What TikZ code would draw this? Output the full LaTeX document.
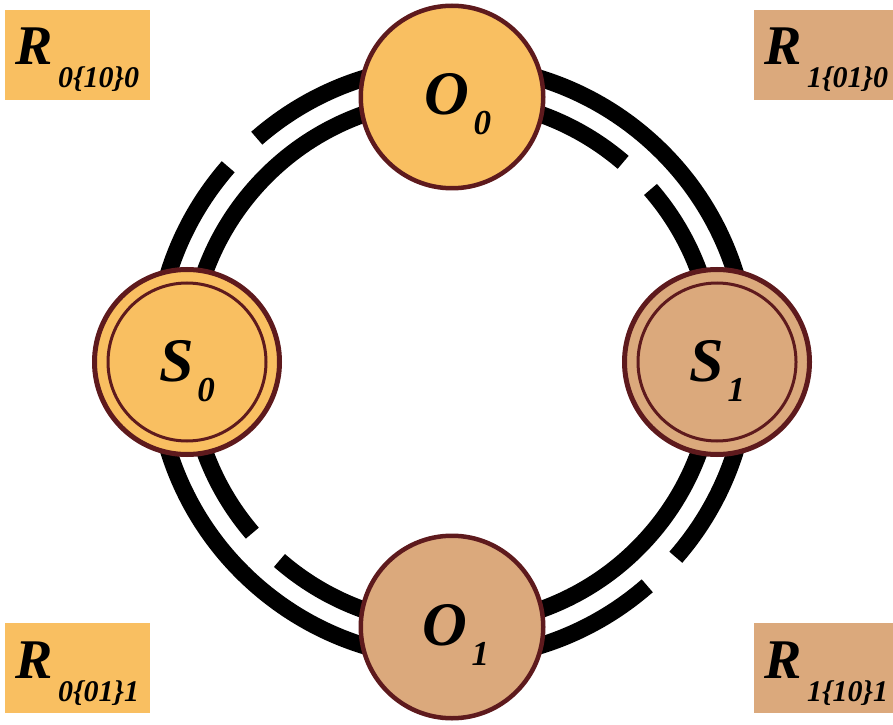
\documentclass[tikz,border=0pt]{standalone}
\usepackage{fontspec}
\setmainfont{Liberation Serif}
\definecolor{orng}{HTML}{F9BF61}
\definecolor{tanc}{HTML}{DBA97C}
\definecolor{bordc}{HTML}{5E1A1D}
\newcommand{\nlab}[2]{{\fontsize{62pt}{62pt}\selectfont #1}\kern4pt\raisebox{-20pt}{\fontsize{35pt}{35pt}\selectfont #2}}
\newcommand{\rlab}[1]{{\fontsize{56pt}{56pt}\selectfont R}\kern5pt\raisebox{-23pt}{\fontsize{30pt}{30pt}\selectfont #1}}
\tikzset{
  ring/.style={line width=17pt, black},
  onode/.style={circle, draw=bordc, line width=4.5pt, minimum size=182.5pt, inner sep=0pt,
    text height=50pt, text depth=14pt, font=\bfseries\itshape},
  snode/.style={circle, draw=bordc, line width=5pt, minimum size=185pt, inner sep=0pt,
    text height=50pt, text depth=12pt, font=\bfseries\itshape},
  innerring/.style={draw=bordc, line width=3pt},
  rbox/.style={rectangle, minimum width=145pt, minimum height=90pt, inner sep=0pt,
    text height=50pt, text depth=30pt, font=\bfseries\itshape},
}
\begin{document}
\begin{tikzpicture}[x=1pt,y=1pt]
\useasboundingbox (0,0) rectangle (893,724);
\coordinate (c) at (452,362);
% rings
\draw[ring] ([shift={(138.9:297)}]c) arc[start angle=138.9, end angle=311.1, radius=297];
\draw[ring] ([shift={(-41.1:297)}]c) arc[start angle=-41.1, end angle=131.1, radius=297];
\draw[ring] ([shift={(49.4:263)}]c) arc[start angle=49.4, end angle=220.6, radius=263];
\draw[ring] ([shift={(229.0:263)}]c) arc[start angle=229.0, end angle=401.0, radius=263];
% nodes
\node[onode, fill=orng] (O0) at (452,627) {\hspace*{12pt}\nlab{O}{0}};
\node[onode, fill=tanc] (O1) at (452,97) {\hspace*{8pt}\nlab{O}{1}};
\node[snode, fill=orng] (S0) at (187,362) {\nlab{S}{0}};
\node[snode, fill=tanc] (S1) at (717,362) {\nlab{S}{1}};
\draw[innerring] (S0.center) circle[radius=79];
\draw[innerring] (S1.center) circle[radius=79];
% corner boxes
\node[rbox, fill=orng] (R1) at (77.5,669) {\rlab{0\{10\}0}};
\node[rbox, fill=tanc] (R2) at (826.5,669) {\rlab{1\{01\}0}};
\node[rbox, fill=orng] (R3) at (77.5,56) {\rlab{0\{01\}1}};
\node[rbox, fill=tanc] (R4) at (826.5,56) {\rlab{1\{10\}1}};
\end{tikzpicture}
\end{document}
